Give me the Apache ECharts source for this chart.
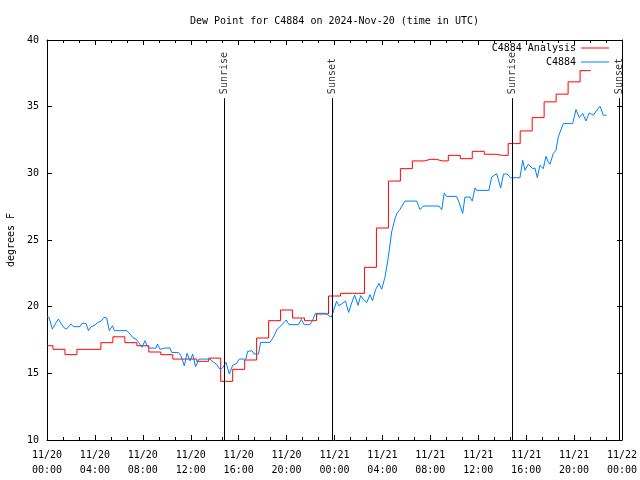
<!DOCTYPE html>
<html><head><meta charset="utf-8">
<script src="https://cdn.jsdelivr.net/npm/echarts@6/dist/echarts.min.js"></script>
<style>html,body{margin:0;padding:0;background:#fff}#c{width:640px;height:480px}</style>
</head><body><div id="c"></div>
<script>
var titleText = 'Dew Point for C4884 on 2024-Nov-20 (time in UTC)';
var xTickHours = [0,4,8,12,16,20,24,28,32,36,40,44,48];
var redHours = [0,1,2,3,4,5,6,7,8,9,10,11,12,13,14,15,16,17,18,19,20,21,22,23,24,25,26,27,28,29,30,31,32,33,34,35,36,37,38,39,40,41,42,43,44,45,45.4];
var redValues = [17.07,16.8,16.4,16.8,16.8,17.3,17.74,17.3,17.07,16.6,16.4,16.07,16.07,15.9,16.14,14.4,15.3,16.0,17.65,18.95,19.75,19.15,18.95,19.45,20.8,21.0,21.0,22.95,25.9,29.42,30.35,30.93,31.05,30.93,31.35,31.1,31.65,31.43,31.35,32.23,33.18,34.18,35.36,35.94,36.86,37.7,37.7];
var blueHours = [0,0.17,0.44,0.94,1.38,1.63,2.0,2.2,2.75,2.92,3.26,3.46,3.67,4.01,4.22,4.51,4.76,4.98,5.2,5.47,5.63,6.68,6.93,7.14,7.43,7.64,7.93,8.18,8.39,8.6,9.1,9.22,9.43,9.85,10.27,10.41,10.98,11.19,11.46,11.69,11.94,12.16,12.4,12.69,13.61,13.88,14.17,14.44,14.67,14.94,15.22,15.5,15.82,16.05,16.61,16.74,17.11,17.28,17.65,17.84,18.61,18.89,19.22,19.59,19.97,20.2,20.98,21.23,21.47,21.95,22.16,22.41,23.33,23.5,23.75,23.91,24.17,24.37,24.67,24.92,25.18,25.4,25.68,25.96,26.19,26.44,26.69,26.96,27.17,27.44,27.71,27.94,28.21,28.49,28.77,29.05,29.22,29.47,29.88,30.86,31.14,31.41,32.72,32.95,33.16,33.36,34.2,34.39,34.7,34.89,35.31,35.5,35.73,35.87,36.89,37.12,37.54,37.87,38.11,38.4,38.69,39.48,39.71,39.9,40.18,40.54,40.73,40.93,41.15,41.43,41.65,41.85,41.99,42.26,42.49,42.68,43.1,43.88,44.16,44.43,44.72,44.99,45.27,45.6,46.16,46.44,46.72];
var blueValues = [19.25,19.2,18.32,19.07,18.45,18.32,18.7,18.5,18.5,18.75,18.75,18.2,18.5,18.62,18.82,18.9,19.2,19.15,18.2,18.57,18.2,18.2,17.95,17.7,17.57,17.33,16.95,17.45,17.0,16.89,16.89,17.2,16.8,16.9,16.9,16.57,16.55,16.3,15.56,16.5,15.94,16.45,15.5,16.07,16.07,15.85,15.67,15.3,15.42,15.83,14.96,15.6,15.74,16.07,16.07,16.64,16.7,16.45,16.45,17.32,17.32,17.7,18.32,18.62,19.0,18.65,18.65,19.05,18.65,18.65,18.95,19.5,19.5,19.32,19.22,19.3,20.4,20.07,20.25,20.42,19.57,20.2,20.87,20.1,20.83,20.5,20.3,20.9,20.45,21.3,21.75,21.3,22.2,23.7,25.6,26.6,27.0,27.3,27.92,27.92,27.27,27.55,27.55,27.27,28.52,28.27,28.27,27.85,27.0,28.22,28.22,27.92,28.9,28.72,28.72,29.72,29.97,28.9,29.95,29.95,29.67,29.67,30.98,30.23,30.68,30.35,30.4,29.67,30.6,30.35,31.28,30.85,30.68,31.48,31.73,32.73,33.73,33.73,34.79,34.18,34.49,33.93,34.53,34.36,35.04,34.36,34.36];
var eventNames = ['Sunrise','Sunset','Sunrise','Sunset'];
var eventHours = [14.8, 23.83, 38.84, 47.79];
var lineTop = 35.64;
var labelBase = 35.94;

var FONT = 'DejaVu Sans Mono';
function pad(n){return (n<10?'0':'')+n;}
function xLabel(h){
  var d = 20 + Math.floor(h/24);
  return '11/' + d + '\n' + pad(h%24) + ':00';
}
var chart = echarts.init(document.getElementById('c'), null, {renderer:'canvas'});
var xBase = {
  type:'value', min:0, max:48, interval:4,
  axisLine:{show:true, onZero:false, lineStyle:{color:'#000', width:1}},
  axisTick:{show:true, inside:true, length:5, lineStyle:{color:'#000'}},
  minorTick:{show:true, splitNumber:3, length:3, lineStyle:{color:'#000'}},
  splitLine:{show:false}
};
var yBase = {
  type:'value', min:10, max:40, interval:5,
  axisLine:{show:true, onZero:false, lineStyle:{color:'#000', width:1}},
  axisTick:{show:true, inside:true, length:5, lineStyle:{color:'#000'}},
  splitLine:{show:false}
};
var markData = eventHours.map(function(h){
  return [{coord:[h, lineTop]}, {coord:[h, 10]}];
});
var labelData = eventHours.map(function(h, i){
  return {value:[h, labelBase], name:eventNames[i]};
});
chart.setOption({
  animation:false,
  backgroundColor:'#fff',
  title:{text:titleText, left:185, top:11,
    textStyle:{fontFamily:FONT, fontSize:10, fontWeight:'normal', color:'#000'}},
  grid:{left:47, right:18, top:40, bottom:40, containLabel:false, outerBoundsMode:'none'},
  legend:{
    data:['C4884 Analysis','C4884'],
    orient:'vertical', right:26, top:37, align:'right',
    icon:'rect', itemWidth:28, itemHeight:1, itemGap:2,
    textStyle:{fontFamily:FONT, fontSize:10, color:'#000', lineHeight:12}
  },
  xAxis:[
    Object.assign({}, xBase, {position:'bottom',
      axisLabel:{show:true, color:'#000', fontFamily:FONT, fontSize:10, lineHeight:15, margin:8,
        formatter:function(v){ return xTickHours.indexOf(v)>=0 ? xLabel(v) : ''; }}}),
    Object.assign({}, xBase, {position:'top', axisLabel:{show:false}})
  ],
  yAxis:[
    Object.assign({}, yBase, {position:'left',
      name:'degrees F', nameLocation:'middle', nameGap:31,
      nameTextStyle:{fontFamily:FONT, fontSize:10, color:'#000'},
      axisLabel:{show:true, color:'#000', fontFamily:FONT, fontSize:10, margin:8}}),
    Object.assign({}, yBase, {position:'right', axisLabel:{show:false}})
  ],
  series:[
    {
      name:'C4884 Analysis', type:'line', step:'middle', symbol:'none',
      data:redHours.map(function(h,i){return [h, redValues[i]];}),
      lineStyle:{color:'#ff0000', width:1}, itemStyle:{color:'#ff0000'},
      markLine:{silent:true, symbol:['none','none'], label:{show:false},
        lineStyle:{color:'#000', width:1, type:'solid'}, data:markData}
    },
    {
      name:'C4884', type:'line', symbol:'none',
      data:blueHours.map(function(h,i){return [h, blueValues[i]];}),
      lineStyle:{color:'#0080ff', width:1}, itemStyle:{color:'#0080ff'}
    },
    {
      name:'events', type:'scatter', symbolSize:0, silent:true,
      data:labelData,
      label:{show:true, formatter:'{b}', rotate:90, position:[0,0], align:'left', verticalAlign:'middle',
        fontFamily:FONT, fontSize:10, color:'#000'}
    }
  ]
});
</script></body></html>
